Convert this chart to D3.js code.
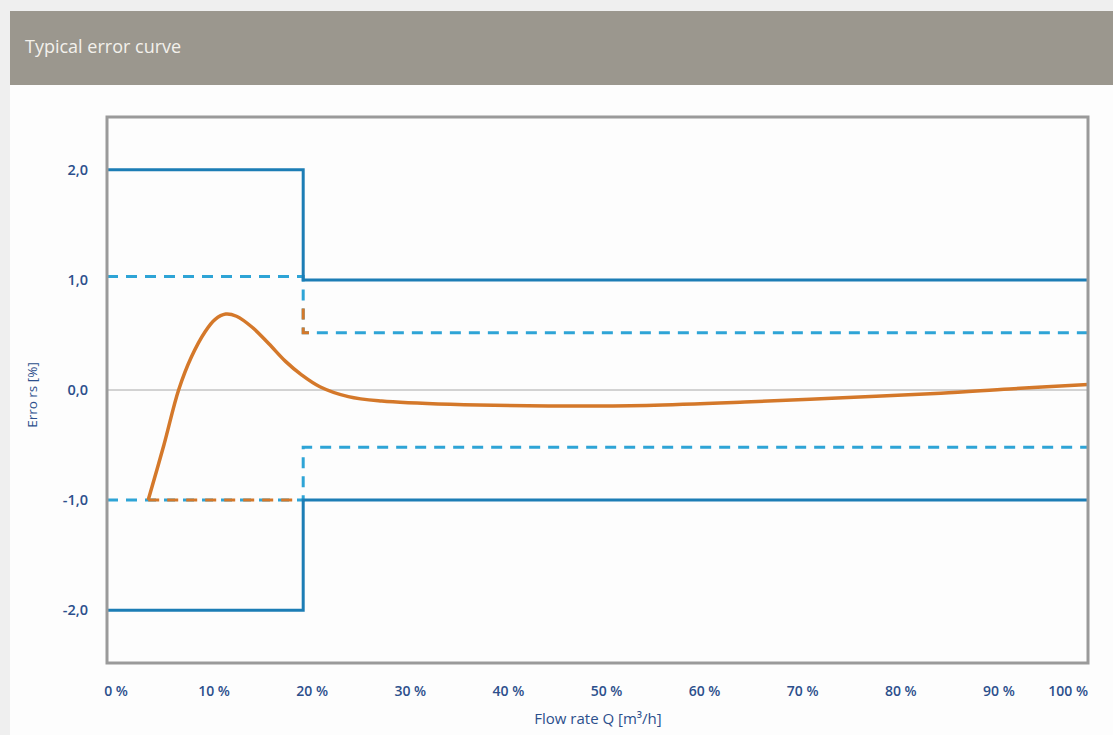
<!DOCTYPE html>
<html>
<head>
<meta charset="utf-8">
<script src="https://cdn.jsdelivr.net/npm/d3@7"></script>
<style>
  body { margin: 0; background: #efefef; }
  svg { display: block; font-family: "Open Sans", "Noto Sans", sans-serif; }
</style>
</head>
<body>
<div id="chart"></div>
<script>
// tick values
const xTicks = [0, 10, 20, 30, 40, 50, 60, 70, 80, 90, 100]
const yTicks = [2, 1, 0, -1, -2]

// limit lines, [flow %, error %]
const upperLimit = [[0, 2], [20, 2], [20, 1], [100, 1]]
const lowerLimit = [[0, -2], [20, -2], [20, -1], [100, -1]]
const upperTolerance = [[0, 1.03], [20, 1.03], [20, 0.52], [100, 0.52]]
const lowerTolerance = [[0, -1], [20, -1], [20, -0.52], [100, -0.52]]
const curveDashLow = [[4.2, -1], [19, -1]]
const curveDashHigh = [[20, 0.74], [20, 0.52], [21, 0.52]]

// typical error curve
const errorCurve = [
    [4.2, -1.0], [5.8, -0.5], [7.3, 0.0], [8.6, 0.3], [10.0, 0.53],
    [11.0, 0.64], [12.1, 0.69], [13.2, 0.67], [14.8, 0.57], [16.5, 0.42], [18.2, 0.26],
    [19.8, 0.14], [21.7, 0.03], [24.6, -0.06], [28, -0.1], [35, -0.13], [45, -0.145],
    [55, -0.14], [65, -0.11], [75, -0.07], [85, -0.03], [92, 0.01], [100, 0.05]
]

const W = 1113, H = 735
const frame = { left: 107, right: 1088, top: 117, bottom: 663 }

const x = d3.scaleLinear().domain([0, 100]).range([frame.left, frame.right])
const y = d3.scaleLinear().domain([-2.48, 2.48]).range([frame.bottom, frame.top])

const svg = d3.select('#chart').append('svg')
    .attr('width', W)
    .attr('height', H)

// white panel + title bar
svg.append('rect').attr('x', 10).attr('y', 85).attr('width', W - 10).attr('height', H - 85).attr('fill', '#fdfdfd')
svg.append('rect').attr('x', 10).attr('y', 11).attr('width', W - 10).attr('height', 74).attr('fill', '#9b978e')
svg.append('text')
    .attr('x', 25).attr('y', 53)
    .attr('fill', '#f3f1ec')
    .style('font-size', '18px')
    .text('Typical error curve')

// zero line
svg.append('line')
    .attr('x1', frame.left).attr('x2', frame.right)
    .attr('y1', y(0)).attr('y2', y(0))
    .attr('stroke', '#a8a8a8').attr('stroke-width', 1)

const line = d3.line().x(d => x(d[0])).y(d => y(d[1]))

const drawPath = (data, color, width, dash, gen = line) => svg.append('path')
    .datum(data)
    .attr('d', gen)
    .attr('fill', 'none')
    .attr('stroke', color)
    .attr('stroke-width', width)
    .attr('stroke-dasharray', dash)

drawPath(upperTolerance, '#2ea4d6', 3, '11 8')
drawPath(lowerTolerance, '#2ea4d6', 3, '11 8')
drawPath(curveDashLow, '#d4782a', 3, '11 8')
drawPath(curveDashHigh, '#d4782a', 3, '11 8')
drawPath(upperLimit, '#1c7db5', 3, null)
drawPath(lowerLimit, '#1c7db5', 3, null)

const smooth = d3.line().x(d => x(d[0])).y(d => y(d[1])).curve(d3.curveCatmullRom.alpha(0.5))
drawPath(errorCurve, '#d4782a', 3.5, null, smooth)

// frame
svg.append('rect')
    .attr('x', frame.left).attr('y', frame.top)
    .attr('width', frame.right - frame.left)
    .attr('height', frame.bottom - frame.top)
    .attr('fill', 'none')
    .attr('stroke', '#9a9a9a')
    .attr('stroke-width', 3)

// y tick labels
svg.selectAll('.ytick')
    .data(yTicks)
    .enter()
    .append('text')
    .attr('x', 88)
    .attr('y', d => y(d))
    .attr('dy', '0.35em')
    .attr('text-anchor', 'end')
    .attr('fill', '#2c4f8c')
    .style('font-size', '14.5px')
    .style('font-weight', 600)
    .text(d => d3.format('.1f')(d).replace('.', ',').replace('−', '-'))

// x tick labels
svg.selectAll('.xtick')
    .data(xTicks)
    .enter()
    .append('text')
    .attr('x', d => d === 100 ? x(d) : x(d) + 9)
    .attr('y', 696)
    .attr('text-anchor', d => d === 100 ? 'end' : 'middle')
    .attr('fill', '#2c4f8c')
    .style('font-size', '14px')
    .style('font-weight', 600)
    .text(d => d + ' %')

// axis titles
svg.append('text')
    .attr('transform', 'translate(37, 395) rotate(-90)')
    .attr('text-anchor', 'middle')
    .attr('fill', '#2c4f8c')
    .style('font-size', '13.5px')
    .text('Erro rs [%]')

svg.append('text')
    .attr('x', 598).attr('y', 724)
    .attr('text-anchor', 'middle')
    .attr('fill', '#2c4f8c')
    .style('font-size', '15px')
    .text('Flow rate Q [m³/h]')
</script>
</body>
</html>
